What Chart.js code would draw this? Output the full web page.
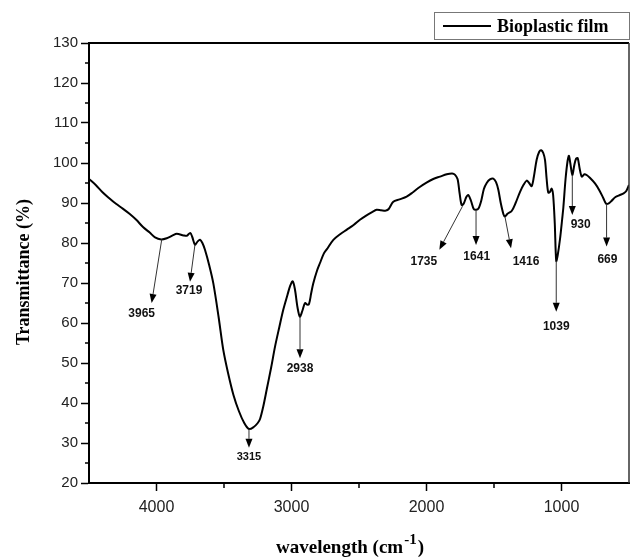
<!DOCTYPE html>
<html><head><meta charset="utf-8">
<script src="https://cdn.jsdelivr.net/npm/chart.js@4.4.1/dist/chart.umd.min.js"></script>
<style>html,body{margin:0;padding:0;background:#fff}#wrap{width:630px;height:558px;position:relative}</style>
</head><body><div id="wrap"><canvas id="c" width="630" height="558"></canvas></div>
<script>
// ---- data ----
const wavenumbers = [4500,4450,4400,4350,4300,4250,4200,4150,4100,4050,4011,3965,3924,3880,3850,3800,3776,3750,3735,3715,3695,3678,3660,3641,3610,3579,3540,3505,3470,3430,3390,3350,3315,3280,3250,3233,3210,3184,3150,3122,3090,3061,3030,3010,2991,2975,2955,2938,2920,2900,2885,2870,2855,2839,2810,2789,2760,2739,2690,2640,2592,2540,2493,2450,2400,2370,2337,2300,2280,2246,2200,2147,2100,2050,2000,1950,1900,1850,1810,1790,1770,1755,1740,1725,1705,1690,1670,1650,1633,1615,1595,1575,1554,1530,1505,1485,1468,1450,1430,1419,1400,1369,1340,1307,1280,1258,1240,1221,1205,1184,1165,1150,1135,1122,1110,1098,1085,1073,1062,1050,1039,1028,1011,995,986,970,955,945,935,920,905,893,880,865,850,830,814,790,752,720,690,669,650,630,600,567,540,520,500];
const transmittance = [96,94.5,92.7,91.2,89.8,88.6,87.3,85.8,84.0,82.6,81.4,80.9,81.2,81.9,82.3,81.9,81.8,82.5,81.5,79.6,80.4,80.8,80.0,78.3,74.5,69.9,61.5,53.2,47.5,42.0,38.0,35.0,33.5,34.0,35.0,36.0,39,43.3,49,54.1,59,63.3,67,69.3,70.4,68.5,63.8,61.6,63,65,64.6,64.8,67.3,69.9,73.2,75,77.4,78.4,80.8,82.2,83.3,84.5,85.8,86.8,87.8,88.3,88.2,88.1,88.5,90.3,90.9,91.6,92.7,94.0,95.1,96.0,96.6,97.2,97.4,97.1,96.0,92.5,89.5,89.8,91.5,92.0,90.5,88.5,88.3,88.6,90.5,93.5,95.0,95.9,96.1,95.2,93.3,90,87.2,86.6,87.3,88.0,90,92.8,94.6,95.6,95.0,94.2,96.5,100.8,102.8,103.2,102.5,100.7,96,92.6,92.8,93.6,92.0,85,75.5,77,81,86,89,96,100.5,101.8,100,97,99.5,101,101.2,98.5,96.6,97.2,97.0,96.3,94.9,93.2,91.2,89.8,89.9,90.5,91.5,92.0,92.4,93.0,94.5];
const seriesName = 'Bioplastic film';
const xTicks = [4000,3000,2000,1000];
const xMinorTicks = [3500,2500,1500];
const yTicks = [20,30,40,50,60,70,80,90,100,110,120,130];
const yMinorTicks = [25,35,45,55,65,75,85,95,105,115,125];
// peak annotations: label, arrow start (on curve), arrow tip, label centre (data units)
const peakLabels = ['3965','3719','3315','2938','1735','1641','1416','1039','930','669'];
const arrowFromW = [3961,3715,3315,2937,1733,1633,1419,1039,920,666];
const arrowFromV = [80.9,79.6,33.5,61.6,89.2,88.3,86.6,75.5,97,89.8];
const arrowToW   = [4036,3752,3315,2937,1905,1633,1374,1039,920,666];
const arrowToV   = [65.0,70.3,28.8,51.2,78.3,79.5,78.7,62.8,87,79.1];
const labelW     = [4110,3759,3315,2937,2020,1628,1263,1039,858,660];
const labelV     = [62.4,68.0,26.6,48.6,75.3,76.7,75.3,59.1,84.5,75.9];

const sansFont = 'Arial, "Liberation Sans", sans-serif';
const serifFont = '"Times New Roman", "Liberation Serif", serif';

const decor = {
  id: 'decor',
  afterDraw(chart) {
    const ctx = chart.ctx, ca = chart.chartArea;
    const xs = chart.scales.x, ys = chart.scales.y;
    ctx.save();
    // frame top/right
    ctx.strokeStyle = '#000';
    ctx.lineWidth = 2;
    ctx.beginPath();
    ctx.moveTo(ca.left, ca.top); ctx.lineTo(ca.right, ca.top);
    ctx.stroke();
    ctx.lineWidth = 1.5;
    ctx.strokeStyle = '#333';
    ctx.beginPath();
    ctx.moveTo(ca.right, ca.top); ctx.lineTo(ca.right, ca.bottom);
    ctx.stroke();
    // minor ticks
    ctx.strokeStyle = '#000';
    ctx.lineWidth = 1.5;
    ctx.beginPath();
    xMinorTicks.forEach(v => { const px = Math.round(xs.getPixelForValue(v)); ctx.moveTo(px, ca.bottom); ctx.lineTo(px, ca.bottom + 5); });
    yMinorTicks.forEach(v => { const py = Math.round(ys.getPixelForValue(v)); ctx.moveTo(ca.left - 4, py); ctx.lineTo(ca.left + 1, py); });
    ctx.stroke();
    // annotations
    for (let i = 0; i < peakLabels.length; i++) {
      const x1 = xs.getPixelForValue(arrowFromW[i]), y1 = ys.getPixelForValue(arrowFromV[i]);
      const x2 = xs.getPixelForValue(arrowToW[i]), y2 = ys.getPixelForValue(arrowToV[i]);
      const ang = Math.atan2(y2 - y1, x2 - x1);
      const hl = 9, hw = 3.5;
      const bx = x2 - hl * Math.cos(ang), by = y2 - hl * Math.sin(ang);
      ctx.strokeStyle = '#333'; ctx.lineWidth = 1;
      ctx.beginPath(); ctx.moveTo(x1, y1); ctx.lineTo(bx, by); ctx.stroke();
      ctx.fillStyle = '#000';
      ctx.beginPath();
      ctx.moveTo(x2, y2);
      ctx.lineTo(bx + hw * Math.sin(ang), by - hw * Math.cos(ang));
      ctx.lineTo(bx - hw * Math.sin(ang), by + hw * Math.cos(ang));
      ctx.closePath(); ctx.fill();
      ctx.font = 'bold ' + (peakLabels[i] === '3315' ? 11 : 12) + 'px ' + sansFont;
      ctx.textAlign = 'center'; ctx.textBaseline = 'middle';
      ctx.fillStyle = '#111';
      ctx.fillText(peakLabels[i], xs.getPixelForValue(labelW[i]), ys.getPixelForValue(labelV[i]));
    }
    // legend
    const lx = 434, ly = 12, lw = 196, lh = 28;
    ctx.fillStyle = '#fff'; ctx.fillRect(lx, ly, lw, lh);
    ctx.strokeStyle = '#777'; ctx.lineWidth = 1;
    ctx.strokeRect(lx + 0.5, ly + 0.5, lw - 1, lh - 1);
    ctx.strokeStyle = '#000'; ctx.lineWidth = 2;
    ctx.beginPath(); ctx.moveTo(443, ly + lh / 2); ctx.lineTo(491, ly + lh / 2); ctx.stroke();
    ctx.fillStyle = '#000';
    ctx.font = 'bold 18px ' + serifFont;
    ctx.textAlign = 'left'; ctx.textBaseline = 'middle';
    ctx.fillText(seriesName, 497, ly + lh / 2 + 1);
    // y title
    ctx.save();
    ctx.translate(24, 272);
    ctx.rotate(-Math.PI / 2);
    ctx.font = 'bold 18px ' + serifFont;
    ctx.textAlign = 'center'; ctx.textBaseline = 'middle';
    ctx.fillText('Transmittance (%)', 0, 0);
    ctx.restore();
    // x title with superscript
    const main = 'wavelength (cm', sup = '-1', close = ')';
    ctx.font = 'bold 19px ' + serifFont;
    const w1 = ctx.measureText(main).width, w3 = ctx.measureText(close).width;
    ctx.font = 'bold 15px ' + serifFont;
    const w2 = ctx.measureText(sup).width;
    let sx = 349 - (w1 + w2 + w3) / 2;
    const base = 553;
    ctx.textAlign = 'left'; ctx.textBaseline = 'alphabetic';
    ctx.font = 'bold 19px ' + serifFont;
    ctx.fillText(main, sx, base);
    ctx.font = 'bold 15px ' + serifFont;
    ctx.fillText(sup, sx + w1 + 1, base - 9);
    ctx.font = 'bold 19px ' + serifFont;
    ctx.fillText(close, sx + w1 + w2 + 2, base);
    ctx.restore();
  }
};

new Chart(document.getElementById('c'), {
  type: 'line',
  data: {
    datasets: [{
      label: seriesName,
      data: wavenumbers.map((w, i) => ({ x: w, y: transmittance[i] })),
      borderColor: '#000',
      borderWidth: 2,
      pointRadius: 0,
      tension: 0.3,
      fill: false
    }]
  },
  options: {
    responsive: false,
    animation: false,
    devicePixelRatio: 1,
    layout: { padding: { top: 43, right: 1, left: 0, bottom: 0 } },
    plugins: { legend: { display: false }, tooltip: { enabled: false } },
    scales: {
      x: {
        type: 'linear', reverse: true, min: 500, max: 4500,
        afterBuildTicks: s => { s.ticks = xTicks.map(v => ({ value: v })); },
        afterFit: s => { s.height = 75; },
        grid: { drawOnChartArea: false, drawTicks: true, tickLength: 8, tickColor: '#000', tickWidth: 1.5 },
        border: { display: true, color: '#000', width: 2 },
        ticks: { font: { family: sansFont, size: 16 }, color: '#222', padding: 7, maxRotation: 0, autoSkip: false, callback: v => String(v) }
      },
      y: {
        min: 20, max: 130,
        afterBuildTicks: s => { s.ticks = yTicks.map(v => ({ value: v })); },
        afterFit: s => { s.width = 89; },
        grid: { drawOnChartArea: false, drawTicks: true, tickLength: 8, tickColor: '#000', tickWidth: 1.5 },
        border: { display: true, color: '#000', width: 2 },
        ticks: { font: { family: sansFont, size: 15 }, color: '#222', padding: 3, autoSkip: false, callback: v => String(v) }
      }
    }
  },
  plugins: [decor]
});
</script></body></html>
